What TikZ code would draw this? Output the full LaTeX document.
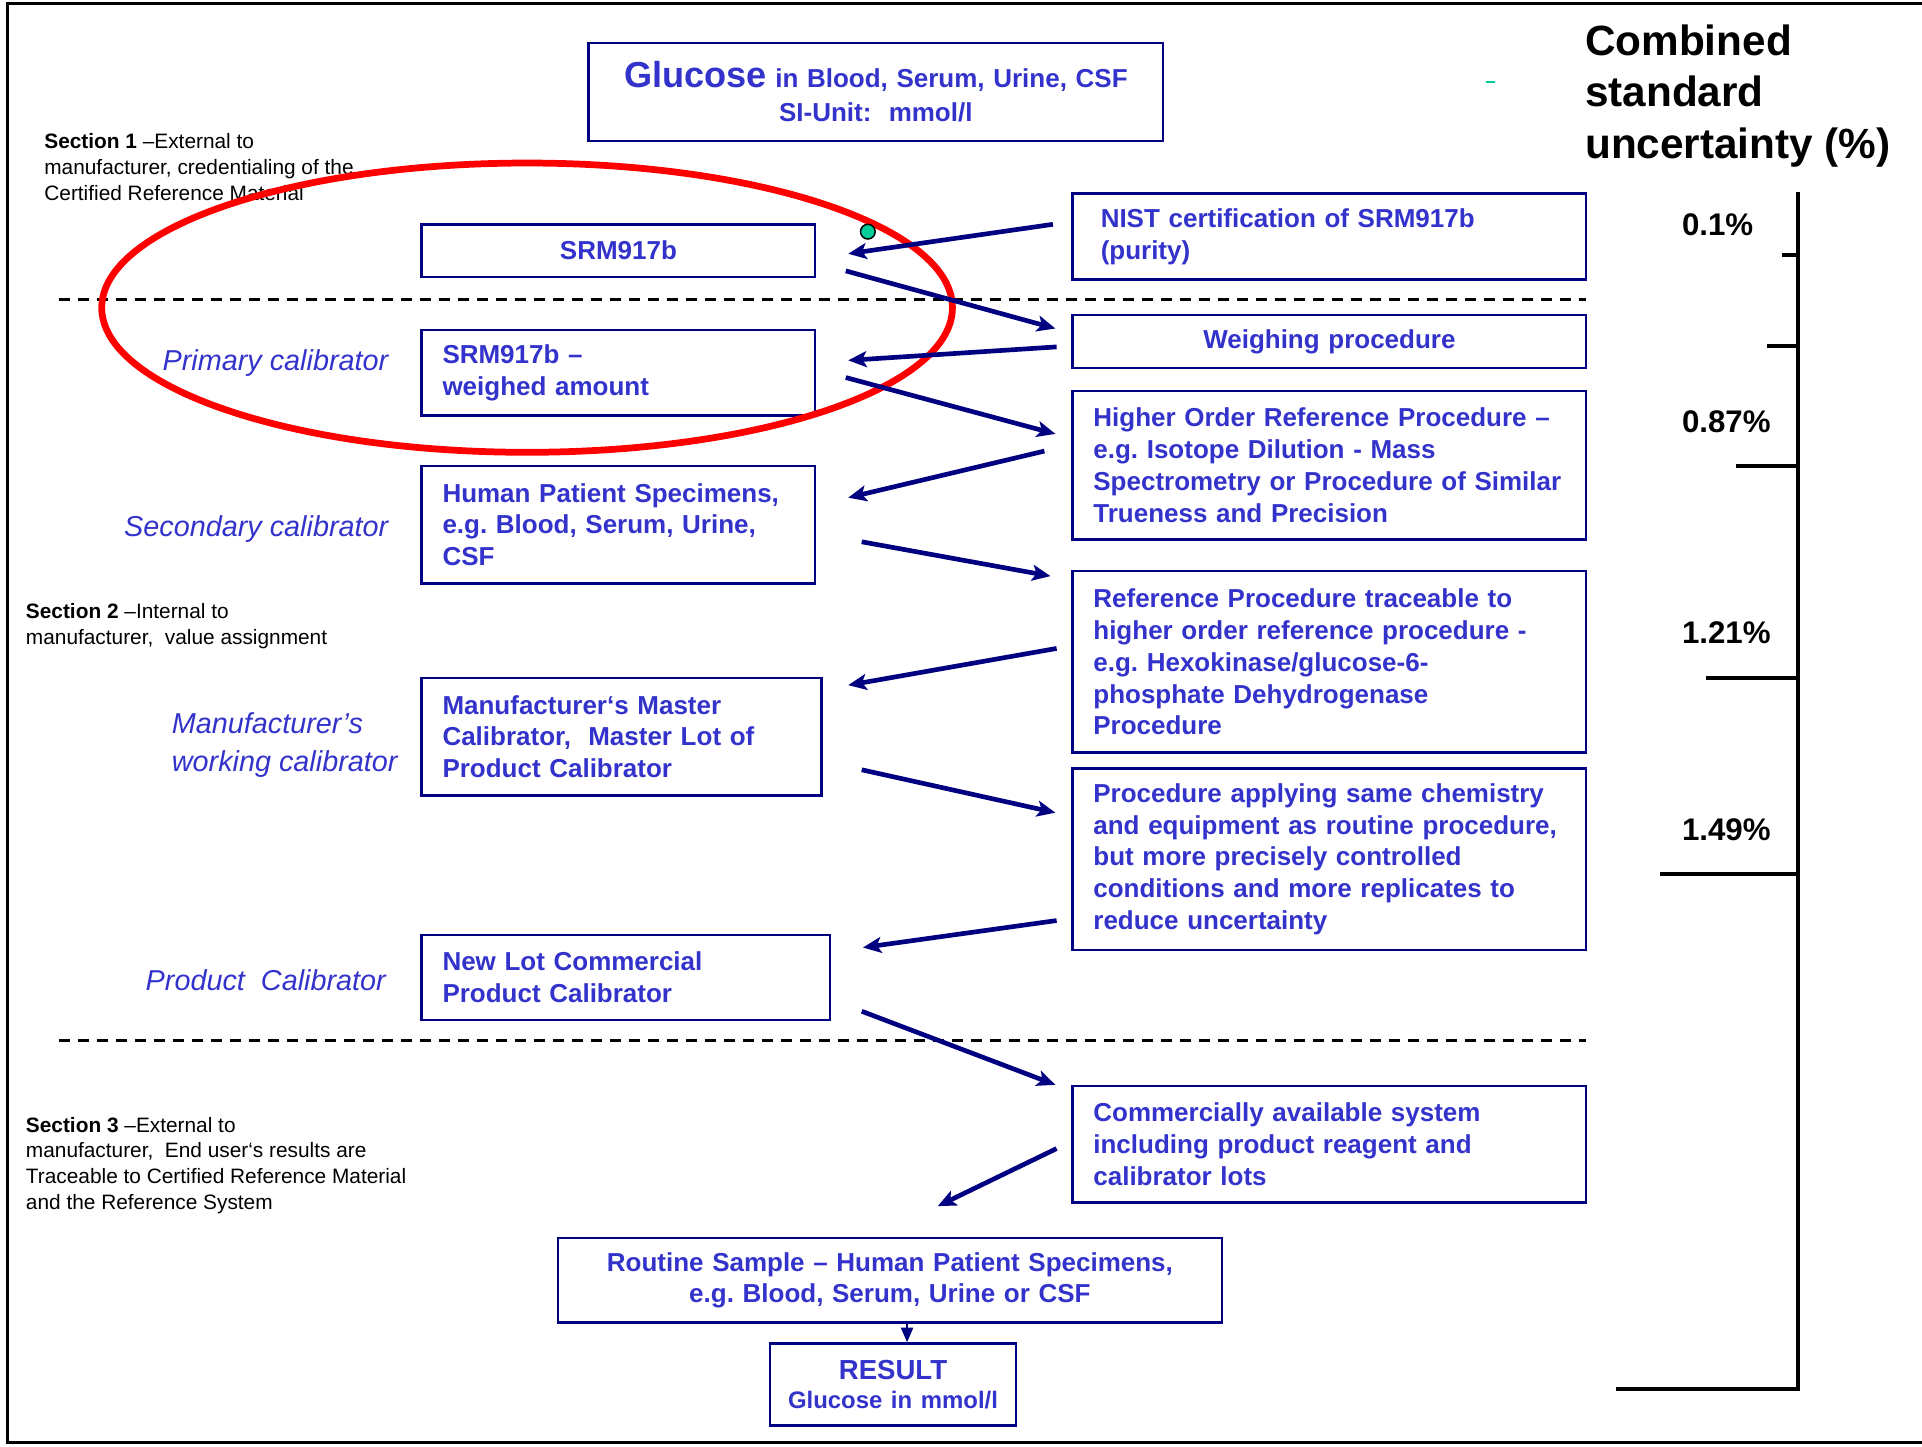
\documentclass[tikz,border=0pt]{standalone}
\usepackage{fontspec}
\setmainfont{Liberation Sans}
\frenchspacing
\usetikzlibrary{arrows.meta,calc}
\definecolor{txtblue}{RGB}{51,51,204}
\definecolor{navyb}{RGB}{0,0,128}
\definecolor{dotgreen}{RGB}{0,204,153}
\newcommand{\bxf}{\fontsize{21.2}{26}\selectfont\bfseries\frenchspacing}
\newcommand{\secf}{\fontsize{17}{21}\selectfont\frenchspacing}
\newcommand{\itf}{\fontsize{23.5}{31}\selectfont\itshape}
\tikzset{
  box/.style={draw=navyb, line width=2pt, text=txtblue, font=\bxf, inner xsep=17pt, inner ysep=0pt, anchor=north west, outer sep=0pt},
  lbox/.style={box, align=left},
  cbox/.style={box, align=center},
  arr/.style={draw=navyb, line width=3.8pt, -{Stealth[length=15pt,width=13pt,inset=3.5pt]}},
  seclabel/.style={anchor=north west, inner sep=0pt, align=left, font=\secf},
  calib/.style={anchor=base east, inner sep=0pt, text=txtblue, font=\itf},
  pct/.style={anchor=base west, inner sep=0pt, font=\fontsize{25.5}{30}\selectfont\bfseries},
  sepline/.style={line width=2.5pt, dash pattern=on 9pt off 6.5pt},
  scaleline/.style={line width=3.2pt, line cap=rect}
}
\begin{document}
\begin{tikzpicture}[x=1pt,y=-1pt]
\useasboundingbox (0,0) rectangle (1568,1180);
% frame
\draw[line width=2.5pt] (1568,3) -- (6,3) -- (6,1177) -- (1568,1177);

% boxes
\node[cbox, minimum width=469pt, minimum height=80pt, text width=435pt] (title) at (480,35)
  {\rule{0pt}{4pt}{\fontsize{29.5}{30}\selectfont Glucose} in Blood, Serum, Urine, CSF\\[2pt] SI-Unit:\ \ mmol/l};
\node[cbox, minimum width=321pt, minimum height=43pt, text width=287pt] (srm) at (344,183) {SRM917b};
\node[lbox, minimum width=419pt, minimum height=70pt, inner xsep=23pt, text width=373pt] (nist) at (875,158)
  {NIST certification of SRM917b\\(purity)};
\node[cbox, minimum width=419pt, minimum height=43pt, text width=385pt] (weigh) at (875,257) {Weighing procedure};
\node[lbox, minimum width=321pt, minimum height=70pt, text width=287pt] (srmw) at (344,269)
  {SRM917b –\\weighed amount};
\node[lbox, minimum width=419pt, minimum height=121pt, text width=385pt] (higher) at (875,319)
  {Higher Order Reference Procedure –\\e.g. Isotope Dilution - Mass\\Spectrometry or Procedure of Similar\\Trueness and Precision};
\node[lbox, minimum width=321pt, minimum height=96pt, text width=287pt] (human) at (344,380)
  {Human Patient Specimens,\\e.g. Blood, Serum, Urine,\\CSF};
\node[lbox, minimum width=419pt, minimum height=148pt, text width=385pt] (refp) at (875,466)
  {Reference Procedure traceable to\\higher order reference procedure -\\e.g. Hexokinase/glucose-6-\\phosphate Dehydrogenase\\Procedure};
\node[lbox, minimum width=326pt, minimum height=96pt, text width=292pt] (master) at (344,553)
  {Manufacturer‘s Master\\Calibrator,\ \ Master Lot of\\Product Calibrator};
\node[lbox, minimum width=419pt, minimum height=148pt, text width=385pt] (procapp) at (875,627)
  {Procedure applying same chemistry\\and equipment as routine procedure,\\but more precisely controlled\\conditions and more replicates to\\reduce uncertainty};
\node[lbox, minimum width=333pt, minimum height=69pt, text width=299pt] (newlot) at (344,763)
  {New Lot Commercial\\Product Calibrator};
\node[lbox, minimum width=419pt, minimum height=95pt, text width=385pt] (comm) at (875,886)
  {Commercially available system\\including product reagent and\\calibrator lots};
\node[cbox, minimum width=542pt, minimum height=69pt, text width=508pt] (routine) at (455,1010)
  {Routine Sample – Human Patient Specimens,\\e.g. Blood, Serum, Urine or CSF};
\node[cbox, minimum width=201pt, minimum height=67pt, text width=190pt, inner xsep=5.5pt] (result) at (628,1096)
  {{\fontsize{22.5}{26}\selectfont RESULT}\\[-3pt]{\fontsize{19.5}{22}\selectfont Glucose in mmol/l}};

% section texts
\node[seclabel] (sec1) at (36,109) {\textbf{Section 1} –External to\\manufacturer, credentialing of the\\Certified Reference Material};
\node[seclabel] (sec2) at (21,492) {\textbf{Section 2} –Internal to\\manufacturer,\ \ value assignment};
\node[seclabel] (sec3) at (21,911) {\textbf{Section 3} –External to\\manufacturer,\ \ End user‘s results are\\Traceable to Certified Reference Material\\and the Reference System};

% calibrator labels
\node[calib] (primary) at (317,302) {Primary calibrator};
\node[calib] (secondary) at (317,438) {Secondary calibrator};
\node[anchor=north west, inner sep=0pt, align=left, text=txtblue, font=\itf] (working) at (140,581) {Manufacturer’s\\working calibrator};
\node[calib] (product) at (315,808) {Product\ \ Calibrator};

% dashed separators
\draw[sepline] (48,244) -- (1294,244);
\draw[sepline] (48,849) -- (1294,849);

% red ellipse
\draw[red, line width=5.5pt] (430,251) ellipse [x radius=347, y radius=118];
\node[circle, draw=black, line width=1.2pt, fill=dotgreen, minimum size=12pt, inner sep=0pt] (dot) at (708,189) {};
\draw[dotgreen, line width=2.2pt] (1212,67) -- (1220,67);

% arrows
\draw[arr] ($(nist.west)+(-16,-10)$) -- ($(srm.east)+(27,2.5)$);
\draw[arr] ($(srm.east)+(25,16.5)$) -- ($(weigh.west)+(-14,-10.5)$);
\draw[arr] ($(weigh.west)+(-13,4.5)$) -- ($(srmw.east)+(27,-10)$);
\draw[arr] ($(srmw.east)+(25,4)$) -- ($(higher.west)+(-14,-25.5)$);
\draw[arr] ($(higher.west)+(-23,-11.5)$) -- ($(human.east)+(27,-22)$);
\draw[arr] ($(human.east)+(38,14)$) -- ($(refp.west)+(-18,-70)$);
\draw[arr] ($(refp.west)+(-13,-11)$) -- ($(master.east)+(22,-42)$);
\draw[arr] ($(master.east)+(33,27)$) -- ($(procapp.west)+(-14,-38)$);
\draw[arr] ($(procapp.west)+(-13,50)$) -- ($(newlot.east)+(27,-24.5)$);
\draw[arr] ($(newlot.east)+(26,27.5)$) -- ($(comm.west)+(-14,-48.5)$);
\draw[arr] ($(comm.west)+(-13,3.5)$) -- ($(routine.north)+(39,-26)$);
\draw[draw=navyb, line width=1.5pt, -{Triangle[length=12pt,width=10pt]}] ($(routine.south)+(14,1)$) -- ($(result.north)+(11.5,-1)$);

% right-hand uncertainty scale
\node[anchor=north west, inner sep=0pt, align=left, font=\fontsize{34.5}{42}\selectfont\bfseries] (cstitle) at (1293,20) {Combined\\standard\\uncertainty (\%)};
\draw[scaleline] (1467,158) -- (1467,1133);
\draw[scaleline] (1455,208) -- (1467,208);
\draw[scaleline] (1443,282) -- (1467,282);
\draw[scaleline] (1418,380) -- (1467,380);
\draw[scaleline] (1393,553) -- (1467,553);
\draw[scaleline] (1356,713) -- (1467,713);
\draw[scaleline] (1320,1133) -- (1467,1133);
\node[pct] (p1) at (1372,192) {0.1\%};
\node[pct] (p2) at (1372,353) {0.87\%};
\node[pct] (p3) at (1372,525) {1.21\%};
\node[pct] (p4) at (1372,686) {1.49\%};
\end{tikzpicture}
\end{document}
